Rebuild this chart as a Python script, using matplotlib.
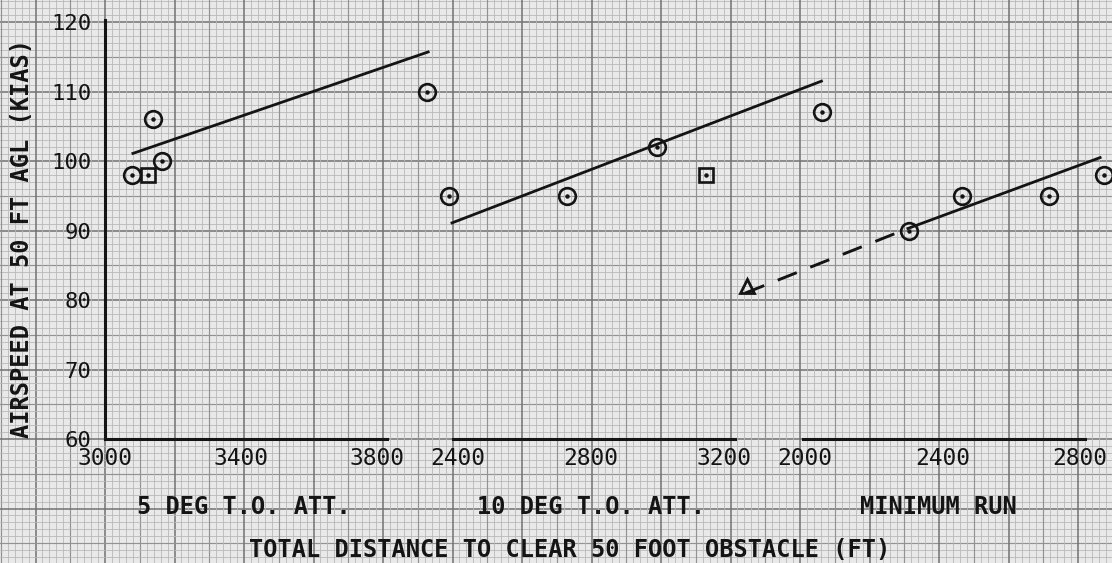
import numpy as np
import matplotlib.pyplot as plt

# 5 deg T.O. attitude
d5_circ_x = [3079, 3141, 3168, 3947]
d5_circ_y = [98, 106, 100, 110]
d5_sq_x = [3126]
d5_sq_y = [98]
d5_fit_x = [3082, 3950]
d5_fit_y = [101.1, 115.7]

# 10 deg T.O. attitude
d10_circ_x = [2373, 2727, 2998, 3496]
d10_circ_y = [95, 95, 102, 107]
d10_sq_x = [3145]
d10_sq_y = [98]
d10_fit_x = [2382, 3493]
d10_fit_y = [91.1, 111.5]

# minimum run
mr_circ_x = [2302, 2456, 2709, 2869]
mr_circ_y = [90, 95, 95, 98]
mr_tri_x = [1831]
mr_tri_y = [82]
mr_dash_x = [1826, 2299]
mr_dash_y = [81.0, 90.3]
mr_fit_x = [2299, 2858]
mr_fit_y = [90.3, 100.5]

y_ticks = [60, 70, 80, 90, 100, 110, 120]
x_ticks = [[3000, 3400, 3800], [2400, 2800, 3200], [2000, 2400, 2800]]
x_lims = [(3000, 3829), (2385, 3233), (1994, 2814)]
sub_titles = ["5 DEG T.O. ATT.", "10 DEG T.O. ATT.", "MINIMUM RUN"]

W, H = 1112, 563
INK = "#141414"
FONT = "DejaVu Sans Mono"

fig = plt.figure(figsize=(W / 100, H / 100), dpi=100)
fig.patch.set_facecolor("#e9e9e9")

# graph paper behind everything
bg = fig.add_axes([0, 0, 1, 1], zorder=-1)
bg.set_xlim(0, W)
bg.set_ylim(H, 0)
bg.axis("off")
step = 6.95
x0, y0 = 105, 439
for k in range(-70, 170):
    x = x0 + k * step
    y = y0 + k * step
    if k % 10 == 0:
        c, lw = "#727272", 1.1
    elif k % 5 == 0:
        c, lw = "#929292", 0.85
    else:
        c, lw = "#b8b8b8", 0.6
    if 0 <= x <= W:
        bg.axvline(x, color=c, lw=lw)
    if 0 <= y <= H:
        bg.axhline(y, color=c, lw=lw)

bottom = (H - 439) / H
height = (439 - 20) / H
width = 282 / W
lefts = [105, 453, 803]

axes = []
for i, left in enumerate(lefts):
    ax = fig.add_axes([left / W, bottom, width, height])
    ax.set_facecolor("none")
    ax.set_xlim(*x_lims[i])
    ax.set_ylim(60, 120.3)
    ax.set_xticks(x_ticks[i])
    ax.tick_params(axis="x", length=0, pad=6, labelsize=16.5, colors=INK)
    for s in ["top", "right"]:
        ax.spines[s].set_visible(False)
    ax.spines["bottom"].set_linewidth(2.2)
    ax.spines["bottom"].set_color(INK)
    if i == 0:
        ax.set_yticks(y_ticks)
        ax.tick_params(axis="y", length=0, pad=10, labelsize=16, colors=INK)
        ax.spines["left"].set_linewidth(2.2)
        ax.spines["left"].set_color(INK)
    else:
        ax.spines["left"].set_visible(False)
        ax.set_yticks([])
    for lab in ax.get_xticklabels() + ax.get_yticklabels():
        lab.set_family(FONT)
    axes.append(ax)


def circles(ax, xs, ys):
    ax.plot(xs, ys, "o", ms=12, mfc="none", mec=INK, mew=1.9, clip_on=False)
    ax.plot(xs, ys, "o", ms=2.2, color=INK, clip_on=False)


def squares(ax, xs, ys):
    ax.plot(xs, ys, "s", ms=10, mfc="none", mec=INK, mew=1.9, clip_on=False)
    ax.plot(xs, ys, "o", ms=2.2, color=INK, clip_on=False)


ax1, ax2, ax3 = axes
ax1.plot(d5_fit_x, d5_fit_y, color=INK, lw=2.0, clip_on=False)
circles(ax1, d5_circ_x, d5_circ_y)
squares(ax1, d5_sq_x, d5_sq_y)

ax2.plot(d10_fit_x, d10_fit_y, color=INK, lw=2.0, clip_on=False)
circles(ax2, d10_circ_x, d10_circ_y)
squares(ax2, d10_sq_x, d10_sq_y)

ax3.plot(mr_dash_x, mr_dash_y, color=INK, lw=2.1, dashes=(7, 5), clip_on=False)
ax3.plot(mr_fit_x, mr_fit_y, color=INK, lw=2.0, clip_on=False)
circles(ax3, mr_circ_x, mr_circ_y)
ax3.plot(mr_tri_x, mr_tri_y, "^", ms=10, mfc="none", mec=INK, mew=2.0, clip_on=False)

# panel captions and axis titles
for cx, txt in zip([244, 591, 938], sub_titles):
    fig.text(cx / W, 1 - 507 / H, txt, ha="center", va="center",
             fontsize=17, family=FONT, weight="bold", color=INK)
fig.text(570 / W, 1 - 550 / H, "TOTAL DISTANCE TO CLEAR 50 FOOT OBSTACLE (FT)",
         ha="center", va="center", fontsize=17, family=FONT, weight="bold", color=INK)
fig.text(22 / W, 1 - 238 / H, "AIRSPEED AT 50 FT AGL (KIAS)", rotation=90,
         ha="center", va="center", fontsize=17, family=FONT, weight="bold", color=INK)

fig.savefig("out.png", dpi=100)
